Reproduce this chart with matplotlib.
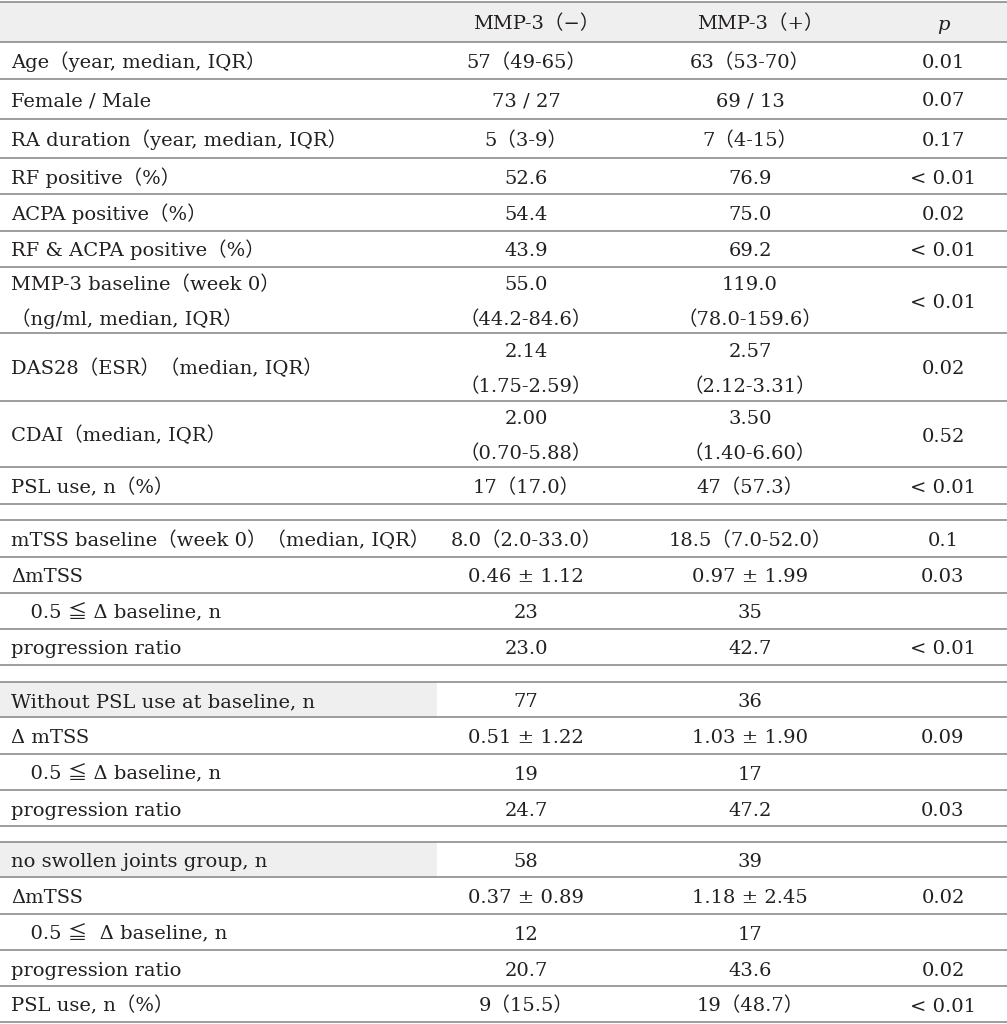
import matplotlib
matplotlib.use('Agg')
import matplotlib.pyplot as plt
from matplotlib.patches import Rectangle

# table content
header = ['', 'MMP-3（−）', 'MMP-3（+）', 'p']

labels = ['Age（year, median, IQR）', 'Female / Male', 'RA duration（year, median, IQR）',
          'RF positive（%）', 'ACPA positive（%）', 'RF & ACPA positive（%）',
          'MMP-3 baseline（week 0）\n（ng/ml, median, IQR）', 'DAS28（ESR）（median, IQR）',
          'CDAI（median, IQR）', 'PSL use, n（%）',
          None,
          'mTSS baseline（week 0）（median, IQR）', 'ΔmTSS', '　0.5 ≦ Δ baseline, n', 'progression ratio',
          None,
          'Without PSL use at baseline, n', 'Δ mTSS', '　0.5 ≦ Δ baseline, n', 'progression ratio',
          None,
          'no swollen joints group, n', 'ΔmTSS', '　0.5 ≦  Δ baseline, n', 'progression ratio',
          'PSL use, n（%）']

mmp_neg = ['57（49-65）', '73 / 27', '5（3-9）', '52.6', '54.4', '43.9',
           '55.0\n（44.2-84.6）', '2.14\n（1.75-2.59）', '2.00\n（0.70-5.88）', '17（17.0）',
           None,
           '8.0（2.0-33.0）', '0.46 ± 1.12', '23', '23.0',
           None,
           '77', '0.51 ± 1.22', '19', '24.7',
           None,
           '58', '0.37 ± 0.89', '12', '20.7', '9（15.5）']

mmp_pos = ['63（53-70）', '69 / 13', '7（4-15）', '76.9', '75.0', '69.2',
           '119.0\n（78.0-159.6）', '2.57\n（2.12-3.31）', '3.50\n（1.40-6.60）', '47（57.3）',
           None,
           '18.5（7.0-52.0）', '0.97 ± 1.99', '35', '42.7',
           None,
           '36', '1.03 ± 1.90', '17', '47.2',
           None,
           '39', '1.18 ± 2.45', '17', '43.6', '19（48.7）']

pvals = ['0.01', '0.07', '0.17', '< 0.01', '0.02', '< 0.01', '< 0.01', '0.02', '0.52', '< 0.01',
         None,
         '0.1', '0.03', '', '< 0.01',
         None,
         '', '0.09', '', '0.03',
         None,
         '', '0.02', '', '0.02', '< 0.01']

shaded = ['Without PSL use at baseline, n', 'no swollen joints group, n']

# layout (pixels)
row_h = [37, 40, 39, 36, 37, 36, 66, 68, 66, 37,
         16,
         37, 36, 36, 36,
         17,
         35, 37, 36, 36,
         16,
         35, 37, 36, 36, 36]
top = 2
head_h = 40
col_x = [11, 526, 750, 943]
head_x = [11, 536, 760, 943]
shade_w = 437
line_c = '#8c8c8c'
fill_c = '#efefef'
txt_c = '#231f20'
fam = ['DejaVu Serif', 'Noto Sans CJK JP', 'DejaVu Sans']
fs = 14
base_off = 7.5   # baseline below row centre
line_gap = 17.5  # half distance between two text lines


def put(ax, x, yc, s, ha, **kw):
    if not s:
        return
    parts = s.split('\n')
    if len(parts) == 1:
        ys = [yc]
    else:
        ys = [yc - line_gap, yc + line_gap]
    for yy, p in zip(ys, parts):
        ax.text(x, yy + base_off, p, ha=ha, va='baseline', fontsize=fs,
                family=fam, color=txt_c, **kw)


fig = plt.figure(figsize=(10.07, 10.24), dpi=100)
ax = fig.add_axes([0, 0, 1, 1])
ax.set_xlim(0, 1007)
ax.set_ylim(1024, 0)
ax.axis('off')

# header
ax.add_patch(Rectangle((0, top), 1007, head_h, color=fill_c, lw=0))
for j in range(1, 4):
    style = 'italic' if header[j] == 'p' else 'normal'
    put(ax, head_x[j], top + head_h / 2, header[j], 'center', style=style)

y = top + head_h
bounds = [top, y]
for i, h in enumerate(row_h):
    yc = y + h / 2
    lab = labels[i]
    if lab is not None:
        if lab in shaded:
            ax.add_patch(Rectangle((0, y), shade_w, h, color=fill_c, lw=0))
        put(ax, col_x[0], yc, lab, 'left')
        for j, vals in enumerate([mmp_neg, mmp_pos, pvals]):
            put(ax, col_x[j + 1], yc, vals[i], 'center')
    y += h
    bounds.append(y)

for b in bounds:
    ax.plot([0, 1007], [b, b], color=line_c, lw=1.2, solid_capstyle='butt')

fig.savefig('out.png', dpi=100)
